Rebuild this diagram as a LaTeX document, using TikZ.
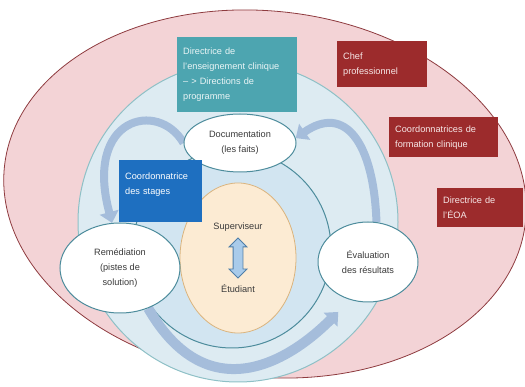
\documentclass[tikz,border=0pt]{standalone}
\usepackage{fontspec}
\setmainfont{Liberation Sans}
\usepackage{xcolor}
\usepackage{tikz}
\usetikzlibrary{shapes, arrows.meta, positioning}

\definecolor{pinkzone}{HTML}{F3D3D6}
\definecolor{pinkline}{HTML}{8E3B3F}
\definecolor{outerzone}{HTML}{DDEBF2}
\definecolor{outerline}{HTML}{8EC0C6}
\definecolor{innerzone}{HTML}{D2E5F1}
\definecolor{innerline}{HTML}{4D8C9C}
\definecolor{corezone}{HTML}{FCEBD3}
\definecolor{coreline}{HTML}{DAB47E}
\definecolor{flowblue}{HTML}{A5BDDB}
\definecolor{linkblue}{HTML}{A9CBEA}
\definecolor{linkline}{HTML}{4F7EA8}
\definecolor{tealbox}{HTML}{4DA5B0}
\definecolor{tealtext}{HTML}{EAF5F6}
\definecolor{bluebox}{HTML}{1E6FC0}
\definecolor{redbox}{HTML}{9C2B2C}
\definecolor{redtext}{HTML}{F7E8E8}
\definecolor{darktext}{HTML}{3A3A3A}

\pgfdeclarelayer{rings}
\pgfdeclarelayer{flows}
\pgfsetlayers{rings,flows,main}

\begin{document}
\begin{tikzpicture}[x=1pt, y=1pt, node distance=3pt, >=Latex,
    font=\fontsize{9.2}{15}\selectfont,
    stage/.style={ellipse, draw=innerline, line width=1pt, fill=white, text=darktext, align=center, inner sep=0pt},
    role/.style={rectangle, anchor=north west, align=left, inner xsep=6pt},
    flow/.style={draw=flowblue, line width=8pt, -{Triangle[width=19pt, length=11pt]}}]

    \useasboundingbox (0,0) rectangle (525,-387);

    % Rings (drawn behind everything)
    \begin{pgfonlayer}{rings}
        \draw [fill=pinkzone, draw=pinkline, line width=0.8pt, rotate around={-6:(265,-194)}] (265,-194) ellipse [x radius=262, y radius=183];
        \draw [fill=outerzone, draw=outerline, line width=1pt] (238,-222) circle [radius=160];
        \draw [fill=innerzone, draw=innerline, line width=1pt] (232,-249) circle [radius=99];
    \end{pgfonlayer}

    % Core: Superviseur <-> Etudiant
    \node [ellipse, draw=coreline, line width=0.8pt, fill=corezone, minimum width=116pt, minimum height=150pt] (core) at (238,-258) {};
    \node [double arrow, rotate=90, fill=linkblue, draw=linkline, line width=0.8pt, minimum height=40pt, double arrow head extend=4pt, inner xsep=0pt, inner ysep=4.5pt] (link) at (core.center) {};
    \node [above=2pt of link.east, text=darktext] (sup) {Superviseur};
    \node [below=2pt of link.west, text=darktext] (etu) {Étudiant};

    % Cycle steps
    \node [stage, minimum width=112pt, minimum height=58pt] (doc) at (240,-143) {Documentation\\(les faits)};
    \node [stage, minimum width=120pt, minimum height=90pt] (rem) at (120,-268) {Remédiation\\(pistes de\\solution)};
    \node [stage, minimum width=100pt, minimum height=80pt] (eval) at (368,-262) {Évaluation\\des résultats};

    % Cycle arrows, under the steps
    \begin{pgfonlayer}{flows}
        \draw [flow] (doc.west) .. controls +(120:50) and +(105:110) .. (rem.100);
        \draw [flow] (eval.78) .. controls +(92:80) and +(35:60) .. (doc.5);
        \draw [flow, line width=10pt, shorten >=17pt] (rem.-55) .. controls +(-60:110) and +(225:100) .. (eval.245);
    \end{pgfonlayer}

    % Roles
    \node [role, fill=tealbox, text=tealtext, text width=108pt, minimum height=75pt] (direns) at (177,-37) {Directrice de\\l’enseignement clinique\\\textendash{} > Directions de\\programme};
    \node [role, fill=bluebox, text=white, text width=71pt, minimum height=62pt] (coordst) at (119,-160) {Coordonnatrice\\des stages\\\mbox{}};
    \node [role, fill=redbox, text=redtext, text width=78pt, minimum height=46pt] (chef) at (337,-41) {Chef\\professionnel};
    \node [role, fill=redbox, text=redtext, text width=97pt, minimum height=40pt] (coordfc) at (389,-117) {Coordonnatrices de\\formation clinique};
    \node [role, fill=redbox, text=redtext, text width=74pt, minimum height=39pt] (direoa) at (437,-188) {Directrice de\\l’ÉOA};

\end{tikzpicture}
\end{document}
